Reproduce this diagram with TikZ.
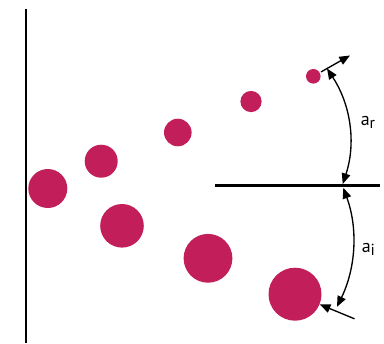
\documentclass[tikz,border=0pt]{standalone}
\usepackage{fontspec}
\setmainfont{PT Sans}
\usetikzlibrary{arrows.meta}
\definecolor{ballred}{RGB}{194,30,90}
\tikzset{
  ball/.style={circle, fill=ballred, inner sep=0pt, minimum size=#1*1.5pt},
  mirror/.style={line width=2.1pt, black},
  ray/.style={line width=1pt, -{Triangle[length=8pt,width=6.5pt]}},
  angarc/.style={line width=1pt, {Triangle[length=8pt,width=6.5pt]}-{Triangle[length=8pt,width=6.5pt]}},
  lbl/.style={font=\fontsize{13.5}{15}\selectfont, inner sep=0pt}
}
\begin{document}
\begin{tikzpicture}[x=0.75pt,y=-0.75pt]
\useasboundingbox (0,0) rectangle (384,343);
% walls
\coordinate (vtop) at (26,8.5);
\coordinate (vbot) at (26,343);
\coordinate (hl) at (215,185.8);
\coordinate (hr) at (379.5,185.8);
\draw[mirror] (vtop) -- (vbot);
\draw[mirror] (hl) -- (hr);
% particles
\node[ball=19.5] (c1) at (47.8,188.5) {};
\node[ball=16.5] (c2) at (101.2,161.2) {};
\node[ball=13.8] (c3) at (177.8,132.5) {};
\node[ball=10.6] (c4) at (251,101.5) {};
\node[ball=7.3]  (c5) at (313.3,76.3) {};
\node[ball=21.8] (c6) at (122,225.8) {};
\node[ball=24.4] (c7) at (208,258.3) {};
\node[ball=26.5] (c8) at (295,294.2) {};
% incident and reflected rays
\coordinate (inc) at (354.5,318.8);
\coordinate (refl) at (350,55.5);
\draw[ray] (inc) -- (c8);
\draw[ray, shorten <=1pt] (c5) -- (refl);
% angle arcs
\coordinate (ar1) at (342.7,184);
\coordinate (ar2) at (327,68.5);
\draw[angarc] (ar1) .. controls (356.2,143.1) and (350.8,104.7) .. (ar2);
\coordinate (ai1) at (343.3,187.8);
\coordinate (ai2) at (337,306.8);
\draw[angarc] (ai1) .. controls (358,228.2) and (356,267.6) .. (ai2);
% labels
\node[lbl, anchor=base west] (lr) at (360.5,125) {a\raisebox{-0.35ex}{\fontsize{12}{13}\selectfont r}};
\node[lbl, anchor=base west] (li) at (361.5,252) {a\raisebox{-0.35ex}{\fontsize{12}{13}\selectfont i}};
\end{tikzpicture}
\end{document}
